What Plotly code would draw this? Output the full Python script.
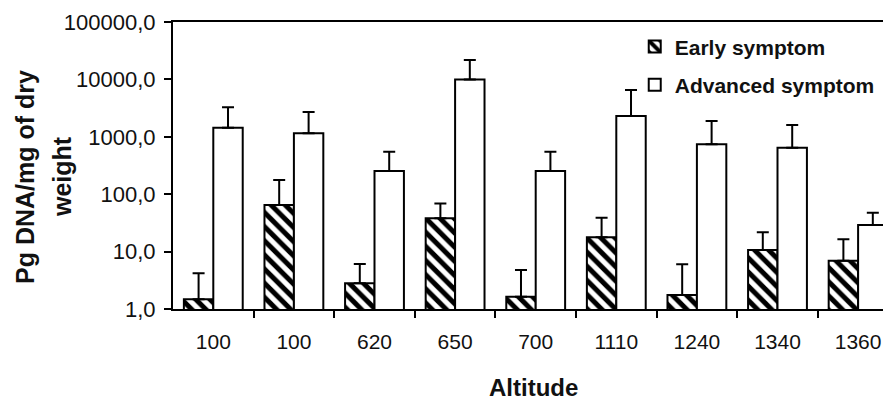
import plotly.graph_objects as go

altitudes = ["100", "100", "620", "650", "700", "1110", "1240", "1340", "1360"]
early = [1.48, 65, 2.8, 38, 1.64, 17.7, 1.75, 10.7, 6.9]
early_err_top = [4.2, 177, 6.1, 69, 4.8, 39, 6.0, 21.7, 16.4]
advanced = [1440, 1150, 254, 10000, 254, 2300, 740, 646, 29]
advanced_err_top = [3260, 2700, 550, 21800, 550, 6530, 1880, 1607, 47.7]

y_tickvals = [1, 10, 100, 1000, 10000, 100000]
y_ticktext = ["1,0", "10,0", "100,0", "1000,0", "10000,0", "100000,0"]

idx = list(range(len(altitudes)))
early_plus = [t - v for t, v in zip(early_err_top, early)]
adv_plus = [t - v for t, v in zip(advanced_err_top, advanced)]

font = "Arial"
ink = "#111111"

fig = go.Figure()
fig.add_trace(go.Bar(
    x=idx, y=early, name="Early symptom", legendgroup="a",
    marker=dict(color="white", line=dict(color="black", width=2),
                pattern=dict(shape="\\", fgcolor="black", bgcolor="white",
                             fgopacity=1, size=10, solidity=0.5)),
    error_y=dict(type="data", symmetric=False, array=early_plus, arrayminus=[0]*len(early),
                 color="black", thickness=2, width=6),
))
fig.add_trace(go.Bar(
    x=idx, y=advanced, name="Advanced symptom", legendgroup="b",
    marker=dict(color="white", line=dict(color="black", width=2)),
    error_y=dict(type="data", symmetric=False, array=adv_plus, arrayminus=[0]*len(advanced),
                 color="black", thickness=2, width=6),
))

L, T, H_PLOT, W_PLOT = 165, 14, 287, 726
fig.update_layout(
    width=891, height=400,
    margin=dict(l=L, r=0, t=T, b=400 - T - H_PLOT),
    paper_bgcolor="white", plot_bgcolor="white",
    barmode="group", bargap=0.27, bargroupgap=0,
    font=dict(family=font, color=ink, size=21),
    showlegend=True,
    legend=dict(x=0.636, y=0.985, xanchor="left", yanchor="top",
                font=dict(family=font, size=21, color=ink, weight="bold"),
                bgcolor="rgba(0,0,0,0)", tracegroupgap=8, traceorder="grouped"),
    xaxis=dict(
        range=[-0.5, -0.5 + W_PLOT / 80.6], automargin=False,
        tickmode="array", tickvals=idx, ticktext=altitudes, ticks="",
        ticklabelstandoff=13,
        showgrid=False, zeroline=False,
        showline=True, linecolor="black", linewidth=2, mirror=True,
        tickfont=dict(size=21),
        minor=dict(tickmode="array", tickvals=[i + 0.5 for i in idx[:-1]],
                   ticks="outside", ticklen=7, tickwidth=2, tickcolor="black", showgrid=False),
    ),
    yaxis=dict(
        type="log", range=[0, 5], automargin=False,
        tickmode="array", tickvals=y_tickvals, ticktext=y_ticktext,
        ticks="outside", ticklen=7, tickwidth=2, tickcolor="black",
        ticklabelstandoff=4,
        showgrid=False, zeroline=False,
        showline=True, linecolor="black", linewidth=2,
        tickfont=dict(size=22),
    ),
    annotations=[
        dict(text="<b>Pg DNA/mg of dry</b>", textangle=-90, xref="paper", yref="paper",
             x=(17 - L) / W_PLOT, y=0.46, xanchor="center", yanchor="middle",
             showarrow=False, font=dict(size=25, color=ink)),
        dict(text="<b>weight</b>", textangle=-90, xref="paper", yref="paper",
             x=(54 - L) / W_PLOT, y=0.46, xanchor="center", yanchor="middle",
             showarrow=False, font=dict(size=25, color=ink)),
        dict(text="<b>Altitude</b>", xref="paper", yref="paper",
             x=(533 - 8 - L) / W_PLOT, y=1 - (379 - T) / H_PLOT, xanchor="center", yanchor="middle",
             showarrow=False, font=dict(size=24, color=ink)),
    ],
)

fig.write_html("out.html")
